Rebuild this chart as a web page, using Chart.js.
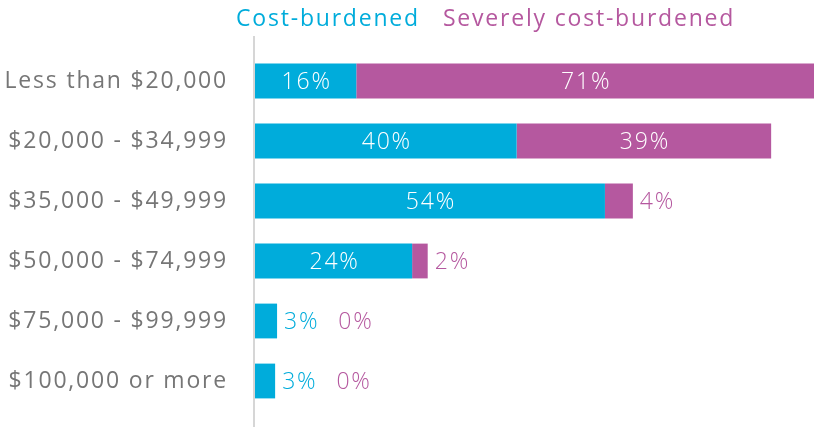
<!DOCTYPE html>
<html>
<head>
<meta charset="utf-8">
<script src="https://cdn.jsdelivr.net/npm/chart.js@4"></script>
<style>
  body { margin: 0; background: #fff; }
  #wrap { position: relative; width: 814px; height: 427px; }
  #chart { display: block; }
  #legend { position: absolute; left: 236px; top: 1px; font: 400 23px "Open Sans", sans-serif; letter-spacing: 1.8px; line-height: 32px; white-space: nowrap; }
  #legend span { margin-right: 23px; }
</style>
</head>
<body>
<div id="wrap">
  <canvas id="chart" width="814" height="427"></canvas>
  <div id="legend"></div>
</div>
<script>
const categories = ['Less than $20,000', '$20,000 - $34,999', '$35,000 - $49,999', '$50,000 - $74,999', '$75,000 - $99,999', '$100,000 or more'];
const costBurdened = [15.6, 40.3, 53.9, 24.2, 3.4, 3.1];
const severelyBurdened = [70.5, 39.2, 4.3, 2.4, 0, 0];
const seriesNames = ['Cost-burdened', 'Severely cost-burdened'];
const colors = ['#00acdb', '#b5589f'];

const legend = document.getElementById('legend');
seriesNames.forEach((name, i) => {
    const s = document.createElement('span');
    s.textContent = name;
    s.style.color = colors[i];
    legend.appendChild(s);
});

const maxTotal = Math.max(...costBurdened.map((v, i) => v + severelyBurdened[i]));

// wider text to get closer to the original geometric font
const spacing = {
    id: 'spacing',
    beforeDraw(chart) {
        chart.ctx.letterSpacing = '1.8px';
    }
};

// vertical axis line drawn a little taller than the bars
const axisLine = {
    id: 'axisLine',
    beforeDatasetsDraw(chart) {
        const ctx = chart.ctx;
        const x0 = chart.scales.x.getPixelForValue(0);
        ctx.save();
        ctx.strokeStyle = '#d6d6d6';
        ctx.lineWidth = 2;
        ctx.beginPath();
        ctx.moveTo(x0 - 1, chart.chartArea.top - 15);
        ctx.lineTo(x0 - 1, chart.height);
        ctx.stroke();
        ctx.restore();
    }
};

const barLabels = {
    id: 'barLabels',
    afterDatasetsDraw(chart) {
        const ctx = chart.ctx;
        ctx.save();
        ctx.font = '300 23px "Open Sans", sans-serif';
        ctx.textBaseline = 'middle';
        chart.data.labels.forEach((_, i) => {
            let cursor = null;
            chart.data.datasets.forEach((ds, d) => {
                const bar = chart.getDatasetMeta(d).data[i];
                const text = Math.round(ds.data[i]) + '%';
                const w = ctx.measureText(text).width;
                const left = Math.min(bar.x, bar.base);
                const right = Math.max(bar.x, bar.base);
                if (right - left > w + 14) {
                    ctx.fillStyle = '#ffffff';
                    ctx.textAlign = 'center';
                    ctx.fillText(text, (left + right) / 2 + 1, bar.y + 1);
                } else {
                    let x = right + 7;
                    if (cursor !== null) x = Math.max(x, cursor + 19);
                    ctx.fillStyle = ds.backgroundColor;
                    ctx.textAlign = 'left';
                    ctx.fillText(text, x, bar.y + 1);
                    cursor = x + w;
                }
            });
        });
        ctx.restore();
    }
};

new Chart(document.getElementById('chart'), {
    type: 'bar',
    data: {
        labels: categories,
        datasets: [
            { label: seriesNames[0], data: costBurdened, backgroundColor: colors[0] },
            { label: seriesNames[1], data: severelyBurdened, backgroundColor: colors[1] }
        ]
    },
    options: {
        indexAxis: 'y',
        responsive: false,
        animation: false,
        layout: { padding: { top: 51, bottom: 16, left: 0, right: 0 } },
        datasets: { bar: { categoryPercentage: 1, barPercentage: 0.58, borderWidth: 0 } },
        plugins: { legend: { display: false }, tooltip: { enabled: false } },
        scales: {
            x: { stacked: true, display: false, min: 0, max: maxTotal },
            y: {
                stacked: true,
                grid: { display: false, drawTicks: false },
                border: { display: false },
                ticks: { color: '#767676', font: { family: '"Open Sans"', size: 23 }, padding: 27 },
                afterFit(scale) {
                    scale.width = 255;
                    // tick padding would otherwise eat into the plot height
                    scale.paddingTop = 0;
                    scale.paddingBottom = 0;
                }
            }
        }
    },
    plugins: [spacing, axisLine, barLabels]
});
</script>
</body>
</html>
